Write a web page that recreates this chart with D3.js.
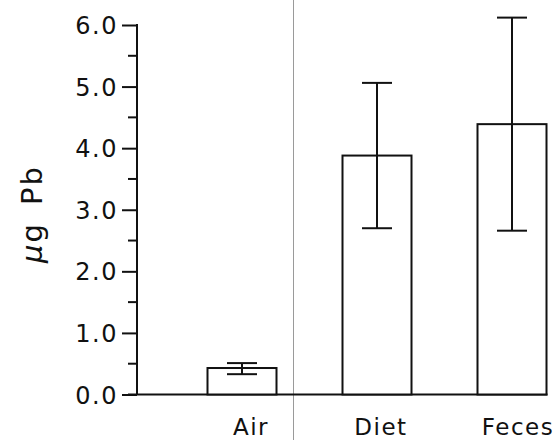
<!DOCTYPE html>
<html>
<head>
<meta charset="utf-8">
<script src="https://cdn.jsdelivr.net/npm/d3@7"></script>
<style>
  html, body { margin: 0; padding: 0; background: #fff; }
  svg { display: block; }
  text { font-family: "DejaVu Sans", "Liberation Sans", sans-serif; fill: #111; }
</style>
</head>
<body>
<script>
// Lead measured per source (µg Pb): mean with lower/upper error limits
const categories = ["Air", "Diet", "Feces"];
const means = [0.43, 3.88, 4.39];
const errLow = [0.33, 2.70, 2.66];
const errHigh = [0.51, 5.06, 6.12];
const yTicks = [0, 1, 2, 3, 4, 5, 6];
const yMinorTicks = [0.5, 1.5, 2.5, 3.5, 4.5, 5.5];

const W = 556, H = 440;
const svg = d3.select("body").append("svg").attr("width", W).attr("height", H);

const axisX = 137;
const y = d3.scaleLinear().domain([0, 6]).range([394.5, 25]);
const x = d3.scalePoint().domain(categories).range([242, 512]);
const barW = 69;
const capW = 30;

// thin divider line
svg.append("line")
  .attr("x1", 293.5).attr("x2", 293.5).attr("y1", 0).attr("y2", H)
  .attr("stroke", "#9a9a9a").attr("stroke-width", 1);

// y axis with major and minor ticks
const gy = svg.append("g").attr("transform", `translate(${axisX},0)`);
gy.call(d3.axisLeft(y).tickValues(yTicks).tickFormat(d3.format(".1f"))
  .tickSize(15).tickPadding(4))
  .call(g => g.select(".domain").remove());
gy.selectAll(".tick line").attr("stroke", "#111").attr("stroke-width", 2);
gy.selectAll(".tick text").attr("font-size", 24).attr("letter-spacing", 1.5).attr("dy", "0.36em");
gy.selectAll(".minor").data(yMinorTicks).enter().append("line")
  .attr("x1", -9).attr("x2", 0)
  .attr("y1", d => y(d)).attr("y2", d => y(d))
  .attr("stroke", "#111").attr("stroke-width", 2);
gy.append("line").attr("x1", 0).attr("x2", 0)
  .attr("y1", y(6) - 1).attr("y2", y(0))
  .attr("stroke", "#111").attr("stroke-width", 2);

// x baseline
svg.append("line")
  .attr("x1", 128).attr("x2", x("Feces") + barW / 2 + 1)
  .attr("y1", y(0)).attr("y2", y(0))
  .attr("stroke", "#111").attr("stroke-width", 2);

// bars
svg.selectAll(".bar").data(categories).enter().append("rect")
  .attr("x", d => x(d) - barW / 2)
  .attr("y", (d, i) => y(means[i]))
  .attr("width", barW)
  .attr("height", (d, i) => y(0) - y(means[i]))
  .attr("fill", "#fff").attr("stroke", "#111").attr("stroke-width", 2);

// error bars
const eb = svg.selectAll(".err").data(categories).enter().append("g");
eb.append("line")
  .attr("x1", d => x(d)).attr("x2", d => x(d))
  .attr("y1", (d, i) => y(errLow[i])).attr("y2", (d, i) => y(errHigh[i]))
  .attr("stroke", "#111").attr("stroke-width", 2);
eb.append("line")
  .attr("x1", d => x(d) - capW / 2).attr("x2", d => x(d) + capW / 2)
  .attr("y1", (d, i) => y(errLow[i])).attr("y2", (d, i) => y(errLow[i]))
  .attr("stroke", "#111").attr("stroke-width", 2);
eb.append("line")
  .attr("x1", d => x(d) - capW / 2).attr("x2", d => x(d) + capW / 2)
  .attr("y1", (d, i) => y(errHigh[i])).attr("y2", (d, i) => y(errHigh[i]))
  .attr("stroke", "#111").attr("stroke-width", 2);

// category labels
const labelShift = { Air: 9, Diet: 4, Feces: 6 };
svg.selectAll(".cat").data(categories).enter().append("text")
  .attr("x", d => x(d) + labelShift[d])
  .attr("y", 435)
  .attr("text-anchor", "middle")
  .attr("font-size", 23)
  .attr("letter-spacing", 1.5)
  .text(d => d);

// y axis title
const title = svg.append("text")
  .attr("transform", "translate(42,214) rotate(-90)")
  .attr("text-anchor", "middle")
  .attr("font-size", 29)
  .attr("letter-spacing", 2)
  .attr("word-spacing", 6);
title.append("tspan").attr("font-style", "italic").text("μ");
title.append("tspan").text("g Pb");
</script>
</body>
</html>
